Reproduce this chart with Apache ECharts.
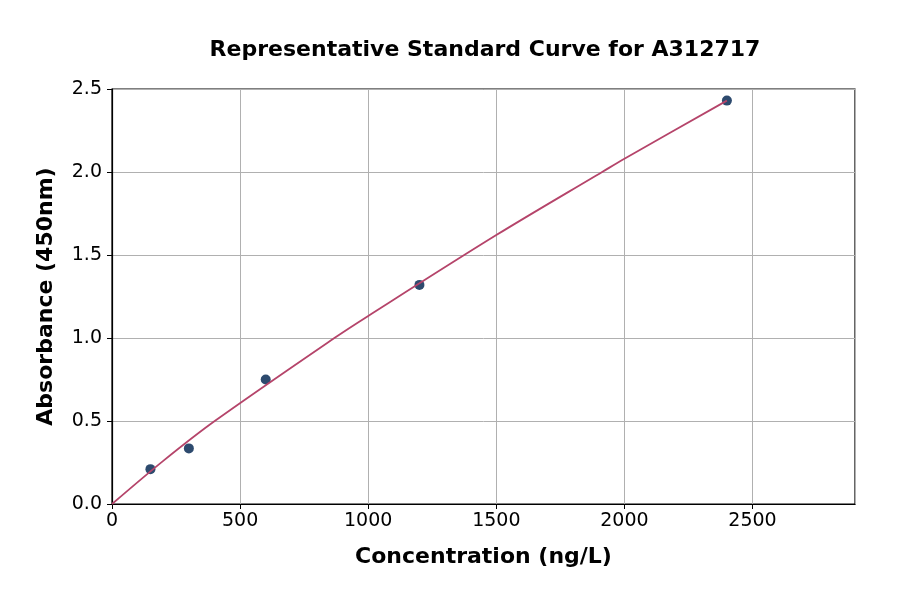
<!DOCTYPE html>
<html>
<head>
<meta charset="utf-8">
<script src="https://cdn.jsdelivr.net/npm/echarts@6/dist/echarts.min.js"></script>
<style>
html,body{margin:0;padding:0;background:#fff;}
#c{width:900px;height:594px;}
</style>
</head>
<body>
<div id="c"></div>
<script>
const concentrations = [150, 300, 600, 1200, 2400];
const absorbances = [0.21, 0.335, 0.75, 1.32, 2.43];
const curveX = [0, 200, 401, 868, 1000, 1500, 1913, 2000, 2400];
const curveY = [0, 0.26, 0.5, 1.0, 1.133, 1.62, 2.0, 2.08, 2.43];
const titleText = 'Representative Standard Curve for A312717';
const xName = 'Concentration (ng/L)';
const yName = 'Absorbance (450nm)';

const font = 'DejaVu Sans';
const chart = echarts.init(document.getElementById('c'), null, {renderer: 'canvas'});
chart.setOption({
  animation: false,
  backgroundColor: '#ffffff',
  title: {
    text: titleText,
    left: 480, top: 34, textAlign: 'center',
    textStyle: {fontFamily: font, fontWeight: 'bold', fontSize: 22, color: '#000'}
  },
  grid: {left: 112, right: 45, top: 89, bottom: 90, containLabel: false,
    show: true, borderColor: '#000', borderWidth: 1.2},
  xAxis: {
    type: 'value', min: 0, max: 2900, interval: 500,
    name: xName, nameLocation: 'middle', nameGap: 42,
    nameTextStyle: {fontFamily: font, fontWeight: 'bold', fontSize: 22, color: '#000'},
    axisLine: {show: true, lineStyle: {color: '#000', width: 1.2}},
    axisTick: {show: true, length: 5, lineStyle: {color: '#000'}},
    axisLabel: {fontFamily: font, fontSize: 19, color: '#000', margin: 8, showMaxLabel: false,
      formatter: v => (v % 500 === 0 ? String(v) : '')},
    splitLine: {show: true, lineStyle: {color: '#b0b0b0', width: 1}}
  },
  yAxis: {
    type: 'value', min: 0, max: 2.5, interval: 0.5,
    name: yName, nameLocation: 'middle', nameGap: 55,
    nameTextStyle: {fontFamily: font, fontWeight: 'bold', fontSize: 22, color: '#000'},
    axisLine: {show: true, lineStyle: {color: '#000', width: 1.2}},
    axisTick: {show: true, length: 5, lineStyle: {color: '#000'}},
    axisLabel: {fontFamily: font, fontSize: 19, color: '#000', margin: 10,
      formatter: v => v.toFixed(1)},
    splitLine: {show: true, lineStyle: {color: '#b0b0b0', width: 1}}
  },
  series: [
    {
      type: 'scatter', z: 2,
      data: concentrations.map((x, i) => [x, absorbances[i]]),
      symbol: 'circle', symbolSize: 10,
      itemStyle: {color: '#2d4a6e', opacity: 1}
    },
    {
      type: 'line', z: 3, smooth: 0.3, symbol: 'none',
      data: curveX.map((x, i) => [x, curveY[i]]),
      lineStyle: {color: '#b5446a', width: 1.8}
    }
  ]
});
</script>
</body>
</html>
